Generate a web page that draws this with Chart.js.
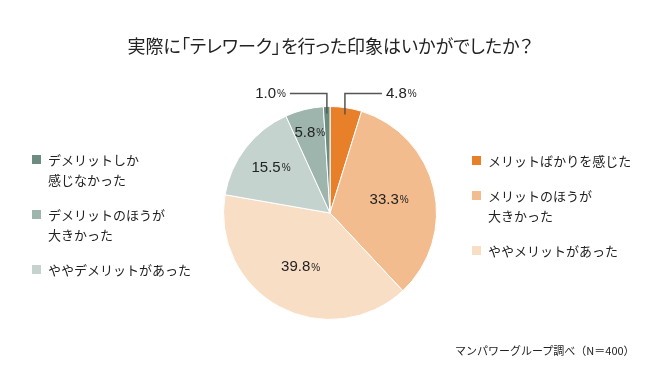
<!DOCTYPE html>
<html>
<head>
<meta charset="utf-8">
<script src="https://cdn.jsdelivr.net/npm/chart.js@4"></script>
<style>
  body { margin: 0; background: #fff; }
  #wrap { position: relative; width: 660px; height: 370px; font-family: "Noto Sans CJK JP", "Noto Sans", sans-serif; color: #222; }
  #chart { position: absolute; left: 0; top: 0; }
  .title { position: absolute; left: 0; top: 32px; width: 660px; text-align: center; font-size: 18px; font-feature-settings: "palt"; }
  .legend { position: absolute; font-size: 13px; line-height: 20px; }
  .legend .item { position: relative; padding-left: 16px; }
  .legend .box { position: absolute; left: 0; top: 5px; width: 9px; height: 9px; }
  .source { position: absolute; left: 455px; top: 342px; font-size: 11px; }
</style>
</head>
<body>
<div id="wrap">
  <canvas id="chart" width="660" height="370"></canvas>
  <div class="title">実際に「テレワーク」を行った印象はいかがでしたか？</div>
  <div class="legend" id="legendLeft" style="left:32px; top:150px;"></div>
  <div class="legend" id="legendRight" style="left:472px; top:151px;"></div>
  <div class="source">マンパワーグループ調べ（N＝400）</div>
</div>
<script>
// Data (clockwise from 12 o'clock)
const categories = [
    'メリットばかりを感じた',
    'メリットのほうが\n大きかった',
    'ややメリットがあった',
    'ややデメリットがあった',
    'デメリットのほうが\n大きかった',
    'デメリットしか\n感じなかった'
];
const values = [4.8, 33.3, 39.8, 15.5, 5.8, 1.0];
const colors = ['#E8802A', '#F3BC8F', '#F9DEC6', '#C5D3CE', '#9DB5AC', '#6B8C7E'];

// legend order per side
const rightOrder = [0, 1, 2];
const leftOrder = [5, 4, 3];

// label placement: fraction of radius, or 'out' with a leader line
const labelPos = ['out', 0.57, 0.58, 0.7, 0.78, 'out'];

function buildLegend(el, order, gaps) {
    el.innerHTML = order.map((i, k) => `
        <div class="item" style="margin-bottom:${gaps[k]}px">
            <span class="box" style="background:${colors[i]}"></span>
            ${categories[i].replace('\n', '<br>')}
        </div>`).join('');
}
buildLegend(document.getElementById('legendLeft'), leftOrder, [15, 15, 0]);
buildLegend(document.getElementById('legendRight'), rightOrder, [15, 15, 0]);

function drawPct(ctx, text, x, y, align) {
    ctx.save();
    ctx.fillStyle = '#222';
    ctx.textBaseline = 'middle';
    const bigFont = '15px "Liberation Sans", "Noto Sans", sans-serif';
    const smallFont = '10px "Liberation Sans", "Noto Sans", sans-serif';
    ctx.font = bigFont;
    const w1 = ctx.measureText(text).width;
    ctx.font = smallFont;
    const w2 = ctx.measureText('%').width + 1;
    let left = x - (w1 + w2) / 2;
    if (align === 'left') left = x;
    if (align === 'right') left = x - w1 - w2;
    ctx.textAlign = 'left';
    ctx.font = bigFont;
    ctx.fillText(text, left, y);
    ctx.font = smallFont;
    ctx.fillText('%', left + w1 + 1, y + 1);
    ctx.restore();
}

const sliceLabels = {
    id: 'sliceLabels',
    afterDatasetsDraw(chart) {
        const ctx = chart.ctx;
        const meta = chart.getDatasetMeta(0);
        meta.data.forEach((arc, i) => {
            const mid = (arc.startAngle + arc.endAngle) / 2;
            const text = values[i].toFixed(1);
            if (labelPos[i] === 'out') {
                const r = arc.outerRadius - 7;
                const ax = arc.x + Math.cos(mid) * r;
                const ay = arc.y + Math.sin(mid) * r;
                const ty = arc.y - arc.outerRadius - 13;
                const dir = Math.cos(mid) >= 0 ? 1 : -1;
                const ex = ax + dir * 37;
                ctx.save();
                ctx.strokeStyle = '#555';
                ctx.lineWidth = 1.5;
                ctx.beginPath();
                ctx.moveTo(ax, ay);
                ctx.lineTo(ax, ty);
                ctx.lineTo(ex, ty);
                ctx.stroke();
                ctx.restore();
                drawPct(ctx, text, ex + dir * 4, ty, dir > 0 ? 'left' : 'right');
            } else {
                const r = arc.outerRadius * labelPos[i];
                drawPct(ctx, text, arc.x + Math.cos(mid) * r, arc.y + Math.sin(mid) * r, 'center');
            }
        });
    }
};

new Chart(document.getElementById('chart'), {
    type: 'pie',
    data: {
        labels: categories,
        datasets: [{
            data: values,
            backgroundColor: colors,
            borderColor: '#fff',
            borderWidth: 1
        }]
    },
    options: {
        responsive: false,
        animation: false,
        layout: { padding: { top: 106, bottom: 50, left: 223, right: 223 } },
        plugins: {
            legend: { display: false },
            tooltip: { enabled: false }
        }
    },
    plugins: [sliceLabels]
});
</script>
</body>
</html>
